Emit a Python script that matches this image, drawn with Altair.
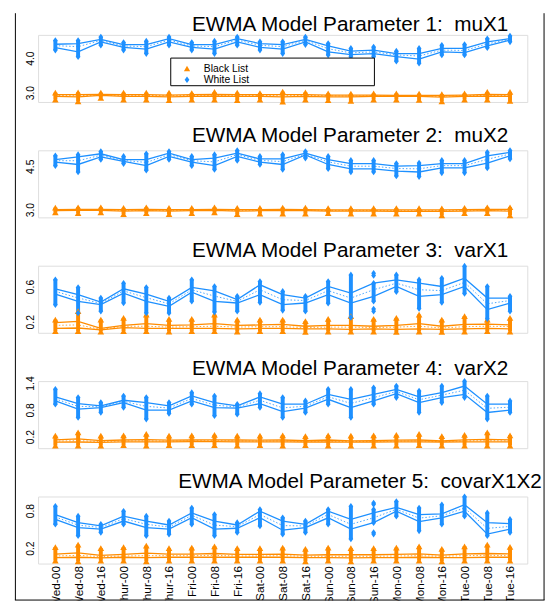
import altair as alt
import pandas as pd

FONT = "Liberation Sans"
BLUE = "#1E90FF"
ORANGE = "#FF8C00"

times = ["Wed-00", "Wed-08", "Wed-16", "Thur-00", "Thur-08", "Thur-16",
         "Fri-00", "Fri-08", "Fri-16", "Sat-00", "Sat-08", "Sat-16",
         "Sun-00", "Sun-08", "Sun-16", "Mon-00", "Mon-08", "Mon-16",
         "Tue-00", "Tue-08", "Tue-16"]
lists = ["Black List", "White List"]

titles = ["EWMA Model Parameter 1:\u00a0\u00a0muX1", "EWMA Model Parameter 2:\u00a0\u00a0muX2",
          "EWMA Model Parameter 3:\u00a0\u00a0varX1", "EWMA Model Parameter 4:\u00a0\u00a0varX2",
          "EWMA Model Parameter 5:\u00a0\u00a0covarX1X2"]
y_domains = [[2.73, 4.67], [2.73, 5.05], [0.076, 0.835], [-0.058, 1.444], [-0.046, 1.025]]
y_ticks = [[3.0, 4.0], [3.0, 4.5], [0.2, 0.6], [0.2, 0.8, 1.4], [0.2, 0.8]]

# ---------------- Parameter 1: muX1 ----------------
p1_white_hi = [4.51, 4.51, 4.61, 4.45, 4.49, 4.61, 4.45, 4.49, 4.61, 4.47, 4.47, 4.61, 4.42, 4.28, 4.32, 4.20, 4.28, 4.37, 4.39, 4.56, 4.64]
p1_white_lo = [4.23, 4.04, 4.37, 4.23, 4.13, 4.37, 4.23, 4.13, 4.37, 4.23, 4.13, 4.39, 4.09, 4.04, 4.04, 3.91, 3.85, 4.09, 4.09, 4.30, 4.47]
p1_white_a = [4.40, 4.42, 4.54, 4.39, 4.39, 4.56, 4.39, 4.39, 4.56, 4.42, 4.39, 4.54, 4.35, 4.20, 4.23, 4.13, 4.13, 4.28, 4.28, 4.47, 4.56]
p1_white_b = [4.30, 4.18, 4.47, 4.31, 4.26, 4.47, 4.31, 4.26, 4.47, 4.31, 4.26, 4.47, 4.18, 4.10, 4.13, 4.04, 3.97, 4.18, 4.16, 4.35, 4.52]
p1_white_mid = [4.36, 4.33, 4.51, 4.35, 4.33, 4.52, 4.35, 4.33, 4.52, 4.37, 4.33, 4.51, 4.27, 4.15, 4.18, 4.09, 4.06, 4.23, 4.22, 4.41, 4.54]
p1_black_hi = [3.00, 3.01, 3.00, 3.00, 3.00, 3.00, 2.99, 3.02, 3.00, 2.99, 3.03, 3.01, 2.98, 2.97, 2.98, 2.98, 2.97, 2.96, 2.98, 3.02, 3.02]
p1_black_lo = [2.80, 2.75, 2.85, 2.80, 2.80, 2.78, 2.80, 2.80, 2.78, 2.80, 2.74, 2.80, 2.78, 2.76, 2.80, 2.80, 2.79, 2.75, 2.80, 2.80, 2.76]
p1_black_a = [2.94, 2.94, 2.95, 2.94, 2.94, 2.93, 2.94, 2.95, 2.94, 2.94, 2.94, 2.94, 2.93, 2.93, 2.93, 2.92, 2.92, 2.92, 2.93, 2.95, 2.94]
p1_black_b = [2.89, 2.88, 2.92, 2.89, 2.89, 2.88, 2.89, 2.90, 2.89, 2.89, 2.88, 2.89, 2.88, 2.88, 2.89, 2.89, 2.89, 2.87, 2.89, 2.90, 2.89]
p1_black_mid = [2.92, 2.91, 2.93, 2.92, 2.92, 2.91, 2.92, 2.92, 2.91, 2.92, 2.91, 2.92, 2.91, 2.90, 2.91, 2.90, 2.90, 2.90, 2.91, 2.92, 2.92]

# ---------------- Parameter 2: muX2 ----------------
p2_white_hi = [4.86, 4.90, 5.01, 4.84, 4.93, 5.01, 4.84, 4.90, 5.04, 4.84, 4.90, 5.01, 4.84, 4.70, 4.70, 4.59, 4.61, 4.70, 4.70, 4.98, 5.04]
p2_white_lo = [4.52, 4.30, 4.73, 4.59, 4.36, 4.73, 4.52, 4.39, 4.70, 4.56, 4.39, 4.78, 4.41, 4.30, 4.30, 4.16, 4.14, 4.27, 4.27, 4.44, 4.75]
p2_white_a = [4.73, 4.82, 4.93, 4.73, 4.73, 4.95, 4.73, 4.78, 4.95, 4.75, 4.75, 4.95, 4.73, 4.59, 4.59, 4.50, 4.52, 4.59, 4.59, 4.86, 4.98]
p2_white_b = [4.64, 4.56, 4.82, 4.67, 4.52, 4.84, 4.64, 4.52, 4.84, 4.64, 4.56, 4.89, 4.56, 4.41, 4.41, 4.33, 4.30, 4.44, 4.44, 4.61, 4.86]
p2_white_mid = [4.69, 4.69, 4.88, 4.70, 4.63, 4.90, 4.69, 4.65, 4.90, 4.70, 4.66, 4.92, 4.65, 4.50, 4.50, 4.42, 4.41, 4.52, 4.52, 4.74, 4.92]
p2_black_hi = [3.07, 3.08, 3.08, 3.06, 3.08, 3.06, 3.06, 3.08, 3.06, 3.06, 3.07, 3.07, 3.05, 3.05, 3.05, 3.05, 3.05, 3.04, 3.06, 3.08, 3.08]
p2_black_lo = [2.90, 2.88, 2.90, 2.84, 2.88, 2.84, 2.88, 2.90, 2.84, 2.86, 2.86, 2.86, 2.88, 2.86, 2.86, 2.86, 2.86, 2.80, 2.88, 2.88, 2.80]
p2_black_a = [3.00, 3.01, 3.01, 3.00, 3.01, 3.00, 3.00, 3.01, 3.00, 3.00, 3.01, 3.00, 2.99, 2.99, 2.99, 2.99, 2.99, 2.99, 3.00, 3.01, 3.01]
p2_black_b = [2.96, 2.97, 2.97, 2.95, 2.96, 2.95, 2.96, 2.97, 2.95, 2.96, 2.96, 2.96, 2.95, 2.95, 2.95, 2.94, 2.94, 2.94, 2.95, 2.96, 2.95]
p2_black_mid = [2.98, 2.99, 2.99, 2.97, 2.98, 2.97, 2.98, 2.99, 2.97, 2.98, 2.98, 2.98, 2.97, 2.97, 2.97, 2.96, 2.96, 2.96, 2.97, 2.98, 2.98]

# ---------------- Parameter 3: varX1 ----------------
p3_white_hi = [0.675, 0.589, 0.469, 0.637, 0.589, 0.469, 0.675, 0.600, 0.488, 0.656, 0.544, 0.488, 0.656, 0.731, 0.637, 0.731, 0.675, 0.693, 0.830, 0.600, 0.488]
p3_white_lo = [0.394, 0.300, 0.320, 0.413, 0.300, 0.300, 0.432, 0.310, 0.320, 0.420, 0.330, 0.320, 0.410, 0.250, 0.432, 0.540, 0.350, 0.420, 0.520, 0.235, 0.320]
p3_white_a = [0.574, 0.507, 0.424, 0.574, 0.514, 0.432, 0.589, 0.551, 0.451, 0.619, 0.507, 0.469, 0.600, 0.525, 0.637, 0.675, 0.637, 0.600, 0.693, 0.469, 0.469]
p3_white_b = [0.514, 0.432, 0.394, 0.525, 0.432, 0.376, 0.536, 0.432, 0.413, 0.507, 0.394, 0.413, 0.507, 0.413, 0.488, 0.600, 0.488, 0.507, 0.600, 0.338, 0.413]
p3_white_mid = [0.544, 0.470, 0.409, 0.550, 0.473, 0.404, 0.562, 0.491, 0.432, 0.563, 0.450, 0.441, 0.553, 0.469, 0.563, 0.637, 0.563, 0.553, 0.646, 0.404, 0.441]
p3_black_hi = [0.226, 0.320, 0.226, 0.245, 0.282, 0.234, 0.234, 0.282, 0.226, 0.226, 0.226, 0.208, 0.234, 0.264, 0.234, 0.245, 0.282, 0.226, 0.264, 0.226, 0.245]
p3_black_lo = [0.095, 0.095, 0.090, 0.095, 0.095, 0.090, 0.095, 0.095, 0.090, 0.095, 0.095, 0.085, 0.090, 0.090, 0.090, 0.085, 0.090, 0.085, 0.090, 0.095, 0.090]
p3_black_a = [0.190, 0.205, 0.125, 0.160, 0.180, 0.160, 0.165, 0.180, 0.160, 0.165, 0.170, 0.150, 0.160, 0.160, 0.150, 0.160, 0.180, 0.150, 0.170, 0.175, 0.165]
p3_black_b = [0.125, 0.130, 0.110, 0.135, 0.125, 0.125, 0.125, 0.125, 0.120, 0.125, 0.125, 0.120, 0.120, 0.115, 0.120, 0.115, 0.120, 0.115, 0.120, 0.125, 0.120]
p3_black_mid = [0.160, 0.165, 0.115, 0.150, 0.150, 0.140, 0.145, 0.150, 0.140, 0.145, 0.145, 0.135, 0.140, 0.140, 0.135, 0.140, 0.150, 0.130, 0.145, 0.150, 0.145]

# ---------------- Parameter 4: varX2 ----------------
p4_white_hi = [1.259, 1.074, 0.963, 1.111, 1.074, 0.963, 1.185, 1.111, 0.926, 1.163, 1.074, 1.000, 1.259, 1.259, 1.296, 1.333, 1.222, 1.333, 1.440, 1.111, 1.000]
p4_white_lo = [0.926, 0.630, 0.741, 0.852, 0.593, 0.719, 0.926, 0.667, 0.704, 0.852, 0.630, 0.741, 0.926, 0.630, 0.926, 1.074, 0.741, 0.963, 1.074, 0.593, 0.741]
p4_white_a = [1.089, 0.941, 0.889, 1.015, 0.963, 0.889, 1.111, 0.963, 0.889, 1.089, 0.926, 0.926, 1.148, 1.037, 1.148, 1.259, 1.089, 1.185, 1.333, 0.926, 0.926]
p4_white_b = [1.000, 0.815, 0.852, 0.963, 0.793, 0.793, 1.000, 0.852, 0.837, 0.941, 0.763, 0.837, 1.037, 0.852, 1.000, 1.163, 0.963, 1.074, 1.148, 0.741, 0.793]
p4_white_mid = [1.045, 0.878, 0.870, 0.989, 0.878, 0.841, 1.056, 0.907, 0.863, 1.015, 0.845, 0.882, 1.093, 0.945, 1.074, 1.211, 1.026, 1.130, 1.241, 0.834, 0.860]
p4_black_hi = [0.222, 0.296, 0.222, 0.230, 0.260, 0.222, 0.230, 0.240, 0.222, 0.222, 0.230, 0.210, 0.230, 0.222, 0.230, 0.240, 0.260, 0.210, 0.240, 0.296, 0.230]
p4_black_lo = [0.000, 0.000, 0.000, 0.010, 0.000, 0.010, 0.010, 0.010, 0.000, 0.010, 0.000, 0.010, 0.000, 0.000, 0.000, 0.000, 0.010, 0.000, 0.000, 0.000, 0.000]
p4_black_a = [0.130, 0.150, 0.110, 0.125, 0.135, 0.120, 0.125, 0.130, 0.125, 0.120, 0.125, 0.110, 0.125, 0.105, 0.110, 0.120, 0.125, 0.105, 0.130, 0.140, 0.130]
p4_black_b = [0.075, 0.080, 0.070, 0.085, 0.085, 0.085, 0.090, 0.090, 0.085, 0.085, 0.085, 0.080, 0.080, 0.075, 0.080, 0.085, 0.085, 0.080, 0.085, 0.085, 0.085]
p4_black_mid = [0.100, 0.110, 0.090, 0.105, 0.105, 0.100, 0.105, 0.110, 0.105, 0.100, 0.105, 0.095, 0.100, 0.090, 0.095, 0.100, 0.105, 0.090, 0.105, 0.110, 0.105]

# ---------------- Parameter 5: covarX1X2 ----------------
p5_white_hi = [0.868, 0.711, 0.581, 0.790, 0.711, 0.633, 0.842, 0.737, 0.607, 0.816, 0.685, 0.633, 0.816, 0.868, 0.816, 0.946, 0.842, 0.894, 1.020, 0.763, 0.659]
p5_white_lo = [0.581, 0.398, 0.450, 0.581, 0.398, 0.424, 0.581, 0.398, 0.450, 0.555, 0.424, 0.450, 0.581, 0.346, 0.607, 0.711, 0.477, 0.581, 0.711, 0.398, 0.450]
p5_white_a = [0.737, 0.607, 0.555, 0.711, 0.633, 0.570, 0.763, 0.633, 0.570, 0.790, 0.633, 0.581, 0.790, 0.659, 0.763, 0.852, 0.737, 0.748, 0.894, 0.607, 0.591]
p5_white_b = [0.659, 0.529, 0.503, 0.633, 0.529, 0.503, 0.685, 0.503, 0.518, 0.685, 0.487, 0.529, 0.685, 0.503, 0.607, 0.790, 0.623, 0.685, 0.790, 0.424, 0.503]
p5_white_mid = [0.698, 0.568, 0.529, 0.672, 0.581, 0.537, 0.724, 0.568, 0.544, 0.738, 0.560, 0.555, 0.738, 0.581, 0.685, 0.821, 0.680, 0.717, 0.842, 0.516, 0.547]
p5_black_hi = [0.216, 0.257, 0.200, 0.216, 0.240, 0.200, 0.210, 0.230, 0.200, 0.200, 0.210, 0.190, 0.210, 0.200, 0.200, 0.210, 0.230, 0.190, 0.230, 0.257, 0.220]
p5_black_lo = [0.000, -0.010, 0.000, 0.000, -0.010, 0.000, 0.000, 0.000, 0.000, 0.000, 0.000, -0.010, 0.000, -0.010, 0.000, 0.000, 0.000, -0.010, 0.000, 0.000, 0.000]
p5_black_a = [0.105, 0.125, 0.085, 0.100, 0.120, 0.105, 0.105, 0.115, 0.100, 0.100, 0.105, 0.090, 0.095, 0.095, 0.095, 0.100, 0.110, 0.090, 0.110, 0.115, 0.110]
p5_black_b = [0.050, 0.055, 0.045, 0.055, 0.050, 0.055, 0.055, 0.055, 0.055, 0.055, 0.055, 0.050, 0.050, 0.045, 0.050, 0.050, 0.055, 0.050, 0.050, 0.055, 0.055]
p5_black_mid = [0.075, 0.085, 0.065, 0.075, 0.080, 0.080, 0.080, 0.085, 0.075, 0.075, 0.080, 0.070, 0.070, 0.070, 0.070, 0.075, 0.080, 0.070, 0.080, 0.085, 0.080]

# isolated White List points (panel index, time, value)
outlier_panel = [2, 2, 2, 2, 4, 4, 4, 4]
outlier_time = ["Sun-16"] * 8
outlier_value = [0.750, 0.725, 0.345, 0.320, 0.920, 0.900, 0.450, 0.425]

series = {
    0: (p1_white_hi, p1_white_lo, p1_white_a, p1_white_b, p1_white_mid,
        p1_black_hi, p1_black_lo, p1_black_a, p1_black_b, p1_black_mid),
    1: (p2_white_hi, p2_white_lo, p2_white_a, p2_white_b, p2_white_mid,
        p2_black_hi, p2_black_lo, p2_black_a, p2_black_b, p2_black_mid),
    2: (p3_white_hi, p3_white_lo, p3_white_a, p3_white_b, p3_white_mid,
        p3_black_hi, p3_black_lo, p3_black_a, p3_black_b, p3_black_mid),
    3: (p4_white_hi, p4_white_lo, p4_white_a, p4_white_b, p4_white_mid,
        p4_black_hi, p4_black_lo, p4_black_a, p4_black_b, p4_black_mid),
    4: (p5_white_hi, p5_white_lo, p5_white_a, p5_white_b, p5_white_mid,
        p5_black_hi, p5_black_lo, p5_black_a, p5_black_b, p5_black_mid),
}


def panel_frame(k):
    wh, wl, wa, wb, wm, bh, bl, ba, bb, bm = series[k]
    rows = []
    for name, (h, l, a, b, m) in (("White List", (wh, wl, wa, wb, wm)),
                                  ("Black List", (bh, bl, ba, bb, bm))):
        for i, t in enumerate(times):
            rows.append({"time": t, "list": name, "hi": h[i], "lo": l[i],
                         "a": a[i], "b": b[i], "mid": m[i]})
    return pd.DataFrame(rows)


outliers = pd.DataFrame({"panel": outlier_panel, "time": outlier_time,
                         "value": outlier_value, "list": "White List"})

DIAMOND = "M0,-1L0.72,0L0,1L-0.72,0Z"
W, H = 496, 68

x_axis_bottom = alt.Axis(labelAngle=-90, labelAlign="right", labelBaseline="middle",
                         labelPadding=2, ticks=False, domain=False, grid=False,
                         labelFontSize=12, labelColor="black", labelFont=FONT,
                         title=None, labelOverlap=False)

title_dy = [39.5, 15.5, 15.5, 20, 15.2]
title_dx = [156, 156, 156, 156, 142]


def make_panel(k):
    df = panel_frame(k)
    xax = x_axis_bottom if k == 4 else None
    x = alt.X("time:N", sort=times, scale=alt.Scale(type="point", padding=0.76),
              axis=xax, title=None)
    yscale = alt.Scale(domain=y_domains[k], nice=False, zero=False)
    yax = alt.Axis(values=y_ticks[k], format=".1f", labelAngle=-90, labelAlign="center",
                   labelBaseline="alphabetic", labelPadding=4.5, ticks=False, tickSize=0,
                   domain=False, grid=False, labelFontSize=10.5, labelColor="black",
                   labelFont=FONT, title=None, labelOverlap=False, labelFlush=False)
    cscale = alt.Scale(domain=lists, range=[ORANGE, BLUE])
    color_nl = alt.Color("list:N", scale=cscale, legend=None)
    shape_scale = alt.Scale(domain=lists, range=["triangle-up", DIAMOND])
    shape_nl = alt.Shape("list:N", scale=shape_scale, legend=None)

    base = alt.Chart(df)
    line_a = base.mark_line(strokeWidth=1.3).encode(
        x=x, y=alt.Y("a:Q", scale=yscale, axis=yax), color=color_nl, detail="list:N")
    line_b = base.mark_line(strokeWidth=1.3).encode(
        x=x, y=alt.Y("b:Q", scale=yscale, axis=yax), color=color_nl, detail="list:N")
    line_m = base.mark_line(strokeWidth=1, strokeDash=[1.5, 2], opacity=0.8).encode(
        x=x, y=alt.Y("mid:Q", scale=yscale, axis=yax), color=color_nl, detail="list:N")
    bars = base.mark_rule(strokeWidth=4).encode(
        x=x, y=alt.Y("lo:Q", scale=yscale, axis=yax), y2="hi:Q", color=color_nl)
    pts_hi = base.mark_point(filled=True, size=45, opacity=1).encode(
        x=x, y=alt.Y("hi:Q", scale=yscale, axis=yax), color=color_nl, shape=shape_nl)
    pts_lo = base.mark_point(filled=True, size=45, opacity=1).encode(
        x=x, y=alt.Y("lo:Q", scale=yscale, axis=yax), color=color_nl, shape=shape_nl)

    layers = [line_a, line_b, line_m, bars, pts_hi, pts_lo]

    od = outliers[outliers["panel"] == k]
    if len(od):
        layers.append(alt.Chart(od).mark_point(filled=True, size=45, opacity=1, shape=DIAMOND,
                                               color=BLUE).encode(
            x=x, y=alt.Y("value:Q", scale=yscale, axis=yax)))

    one = alt.Data(values=[{}])
    if k == 0:
        # legend box with its two entries
        layers.append(alt.Chart(one).mark_rect(fill="white", stroke="black", strokeWidth=1).encode(
            x=alt.value(134.5), x2=alt.value(341), y=alt.value(23.5), y2=alt.value(51.5)))
        layers.append(alt.Chart(one).mark_point(filled=True, size=40, opacity=1,
                                                shape="triangle-up", color=ORANGE).encode(
            x=alt.value(151), y=alt.value(34)))
        layers.append(alt.Chart(one).mark_point(filled=True, size=45, opacity=1,
                                                shape=DIAMOND, color=BLUE).encode(
            x=alt.value(151), y=alt.value(45.5)))
        layers.append(alt.Chart(one).mark_text(align="left", baseline="middle", fontSize=10.5,
                                               font=FONT, color="black").encode(
            x=alt.value(168), y=alt.value(34.5), text=alt.value(lists[0])))
        layers.append(alt.Chart(one).mark_text(align="left", baseline="middle", fontSize=10.5,
                                               font=FONT, color="black").encode(
            x=alt.value(168), y=alt.value(46), text=alt.value(lists[1])))
        # outer page frame (left and right sides)
        layers.append(alt.Chart(one).mark_rule(color="black", strokeWidth=1).encode(
            x=alt.value(-23), y=alt.value(-22), y2=alt.value(573)))
        layers.append(alt.Chart(one).mark_rule(color="black", strokeWidth=1).encode(
            x=alt.value(513), y=alt.value(-22), y2=alt.value(573)))
    if k == 4:
        layers.append(alt.Chart(one).mark_rect(fill="white").encode(
            x=alt.value(-22.5), x2=alt.value(512.5), y=alt.value(105.5), y2=alt.value(125)))
        layers.append(alt.Chart(one).mark_rule(color="black", strokeWidth=1).encode(
            x=alt.value(-23.5), x2=alt.value(513.5), y=alt.value(105)))

    ch = alt.layer(*layers).properties(
        width=W, height=H,
        title=alt.TitleParams(titles[k], anchor="start", frame="group", dx=title_dx[k],
                              dy=title_dy[k], offset=0, fontSize=21, font=FONT,
                              fontWeight="normal", color="black", baseline="alphabetic"))
    return ch


panels = [make_panel(k) for k in range(5)]

chart = alt.vconcat(*panels, spacing=49, bounds="flush").properties(
    padding={"left": 5.5, "top": 0, "right": 2, "bottom": 0}
).configure_view(stroke="black", strokeWidth=1).configure(background="white")

chart.save("out.html", embed_options={"renderer": "svg", "actions": False})
